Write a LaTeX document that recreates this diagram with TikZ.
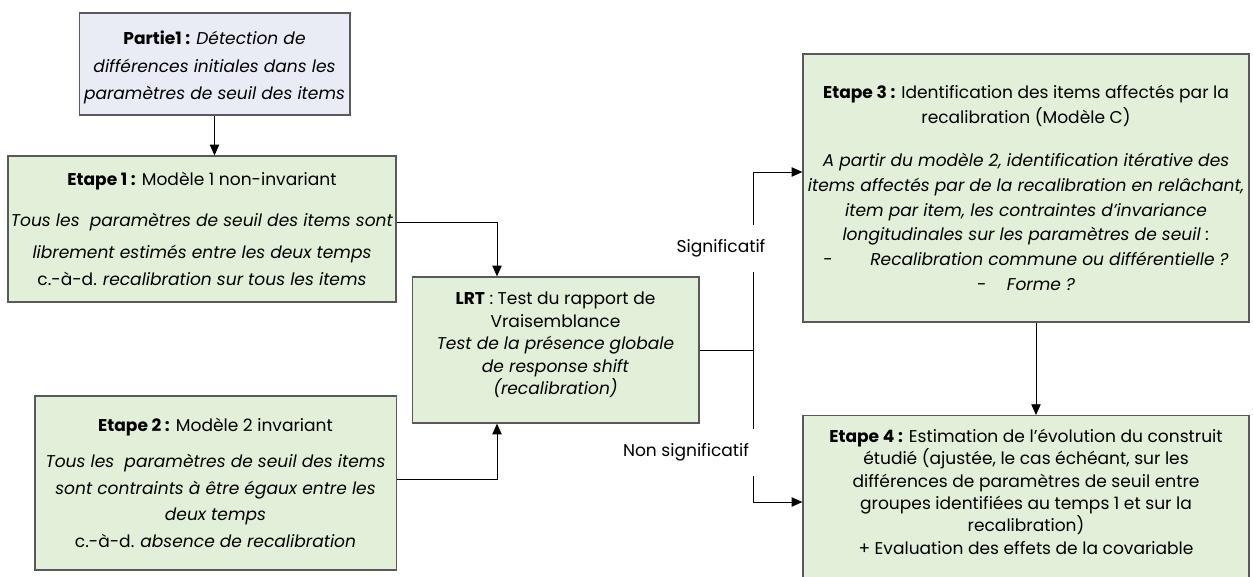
\documentclass[tikz,border=0pt]{standalone}
\usepackage{fontspec}
\setmainfont{Poppins}
\usetikzlibrary{arrows.meta,positioning,calc}
\definecolor{egreen}{HTML}{E2EFD9}
\definecolor{eblue}{HTML}{E9EBF5}
\definecolor{eborder}{HTML}{595959}
\newcommand{\etp}[1]{\textbf{#1 :}}

\begin{document}
\begin{tikzpicture}[x=0.75pt,y=-0.75pt,
 box/.style={draw=eborder, line width=1pt, fill=egreen, align=center, inner sep=0pt},
 arr/.style={-{Triangle[length=8pt,width=7pt]}, line width=0.6pt},
 lbl/.style={inner xsep=0pt, inner ysep=10.5pt, font=\fontsize{12.8}{14}\selectfont}]
 \clip (0,0) rectangle (1253,577);
 % left column
 \node[box, fill=eblue, minimum width=203pt, minimum height=76.5pt, font=\fontsize{12.8}{20.6}\selectfont] (p1) at (214.5,64)
  {\rule{0pt}{16pt}\etp{Partie1} \textit{Détection de}\\ \textit{différences initiales dans les}\\ \textit{paramètres de seuil des items}};
 \node[box, minimum width=291pt, minimum height=109.5pt, font=\fontsize{12.8}{20}\selectfont] (e1) at (202,229)
  {\etp{Etape 1} Modèle 1 non-invariant\\[11pt]
   \textit{Tous les~ paramètres de seuil des items sont}\\[4pt]
   \textit{librement estimés entre les deux temps}\\
   c.-à-d. \textit{recalibration sur tous les items}};
 \node[box, minimum width=271pt, minimum height=130.5pt, font=\fontsize{12.8}{20}\selectfont] (e2) at (215.5,483)
  {\etp{Etape 2} Modèle 2 invariant\\[7pt]
   \textit{Tous les~ paramètres de seuil des items}\\
   \textit{sont contraints à être égaux entre les}\\
   \textit{deux temps}\\
   c.-à-d. \textit{absence de recalibration}};
 % test
 \node[box, minimum width=215pt, minimum height=109.5pt, font=\fontsize{12.8}{16.8}\selectfont] (lrt) at (555.5,350)
  {\textbf{LRT} : Test du rapport de\\ Vraisemblance\\
   \textit{Test de la présence globale}\\ \textit{de response shift}\\ \textit{(recalibration)}\rule[-10pt]{0pt}{10pt}};
 % right column
 \node[box, minimum width=334.5pt, minimum height=201pt, font=\fontsize{12.8}{18.5}\selectfont] (e3) at (1026,188)
  {\etp{Etape 3} Identification des items affectés par la\\ recalibration (Modèle C)\\[14pt]
   \textit{A partir du modèle 2, identification itérative des}\\
   \textit{items affectés par de la recalibration en relâchant,}\\
   \textit{item par item, les contraintes d’invariance}\\
   \textit{longitudinales sur les paramètres de seuil :}\\
   -\hspace{2.2em}\textit{Recalibration commune ou différentielle ?}\\
   -\hspace{1.2em}\textit{Forme ?}};
 \node[box, anchor=north, minimum width=334.5pt, font=\fontsize{12.8}{16.8}\selectfont] (e4) at (1026,415)
  {\rule{0pt}{20pt}\etp{Etape 4} Estimation de l’évolution du construit\\
   étudié (ajustée, le cas échéant, sur les\\
   différences de paramètres de seuil entre\\
   groupes identifiées au temps 1 et sur la\\
   recalibration)\\
   + Evaluation des effets de la covariable\rule[-30pt]{0pt}{30pt}};
 \node[lbl] (sig) at (721,248.5) {Significatif};
 \node[lbl] (nsig) at (686,452.5) {Non significatif};
 \coordinate (j1) at (497,222);
 \coordinate (j2) at (497,479);
 \coordinate (split) at (753,350);
 \coordinate (up) at (753,172);
 \coordinate (dn) at (753,502);
 % connectors
 \draw[arr] (p1.south) -- (p1.south |- e1.north);
 \draw[arr] (e1.east |- j1) -| (lrt.north -| j1);
 \draw[arr] (e2.east |- j2) -| (lrt.south -| j2);
 \draw[line width=0.6pt] (lrt.east) -- (split) -- (split |- sig.south);
 \draw[arr] (sig.north -| split) |- (up -| e3.west);
 \draw[line width=0.6pt] (split) -- (split |- nsig.north);
 \draw[arr] (nsig.south -| split) |- (dn -| e4.west);
 \draw[arr] ([xshift=7.5pt]e3.south) -- ([xshift=7.5pt]e3.south |- e4.north);
\end{tikzpicture}
\end{document}
